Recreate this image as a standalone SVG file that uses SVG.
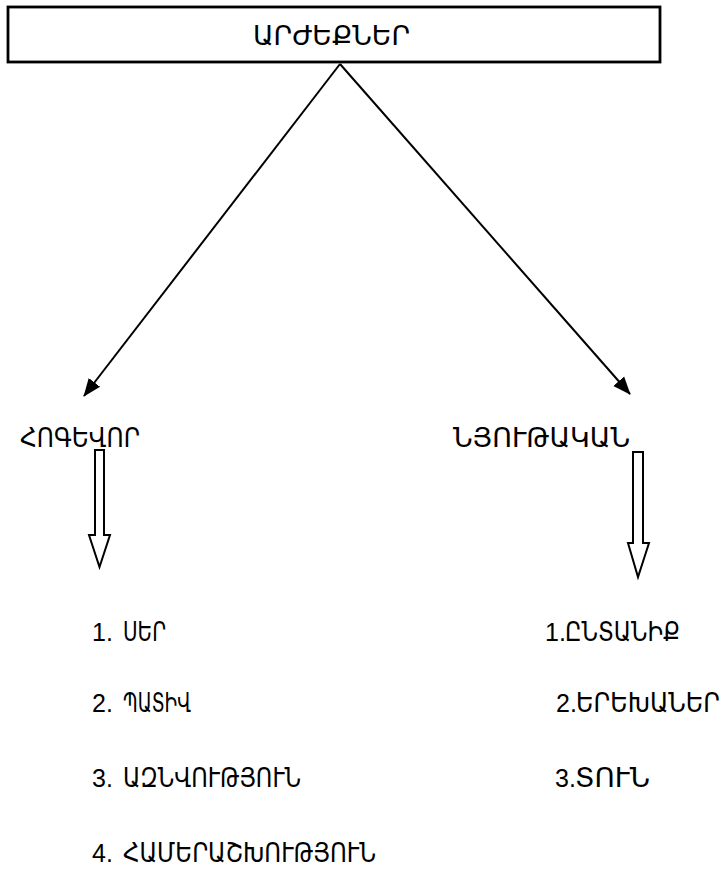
<svg xmlns="http://www.w3.org/2000/svg" width="724" height="890" viewBox="0 0 724 890">
<style>
text{font-family:"Liberation Sans","DejaVu Sans Condensed","DejaVu Sans","Noto Sans",sans-serif;font-size:25px;fill:#000}
.hy{font-family:"DejaVu Sans Condensed","DejaVu Sans","Noto Sans",sans-serif;font-size:27px}
.box{fill:#fff;stroke:#000;stroke-width:2.8}
.edge{stroke:#000;stroke-width:2;fill:none}
.hollow{fill:#fff;stroke:#000;stroke-width:2}
</style>
<defs>
<marker id="ah2" viewBox="0 0 10 10" refX="9.5" refY="5" markerWidth="9" markerHeight="9" orient="auto">
<path d="M0,1 L10,5 L0,9 z" fill="#000"/>
</marker>
</defs>
<rect width="724" height="890" fill="#fff"/>
<g id="root">
<rect class="box" x="8" y="7" width="652" height="55"/>
<text class="hy" x="253" y="45" textLength="157" lengthAdjust="spacingAndGlyphs">ԱՐԺԵՔՆԵՐ</text>
</g>
<g id="connectors">
<line class="edge" x1="340" y1="64" x2="84" y2="396" marker-end="url(#ah2)"/>
<line class="edge" x1="340" y1="64" x2="630" y2="394" marker-end="url(#ah2)"/>
<path class="hollow" d="M95,450 H104 V535 H110 L99.5,567 L89,535 H95 Z"/>
<path class="hollow" d="M633,452 H643 V543 H649 L638,577 L628,543 H633 Z"/>
</g>
<g id="spiritual">
<text class="hy" x="20" y="447" textLength="120" lengthAdjust="spacingAndGlyphs">ՀՈԳԵՎՈՐ</text>
</g>
<g id="material">
<text class="hy" x="453" y="447" textLength="177" lengthAdjust="spacingAndGlyphs">ՆՅՈՒԹԱԿԱՆ</text>
</g>
<g id="spiritual-list">
<text x="92" y="641">1.</text><text class="hy" x="123" y="641" textLength="43" lengthAdjust="spacingAndGlyphs">ՍԵՐ</text>
<text x="92" y="712">2.</text><text class="hy" x="123" y="712" textLength="68" lengthAdjust="spacingAndGlyphs">ՊԱՏԻՎ</text>
<text x="92" y="787">3.</text><text class="hy" x="123" y="787" textLength="178" lengthAdjust="spacingAndGlyphs">ԱԶՆՎՈՒԹՅՈՒՆ</text>
<text x="92" y="862">4.</text><text class="hy" x="123" y="862" textLength="253" lengthAdjust="spacingAndGlyphs">ՀԱՄԵՐԱՇԽՈՒԹՅՈՒՆ</text>
</g>
<g id="material-list">
<text x="545" y="641">1.</text><text class="hy" x="565" y="641" textLength="115" lengthAdjust="spacingAndGlyphs">ԸՆՏԱՆԻՔ</text>
<text x="556" y="712">2.</text><text class="hy" x="576" y="712" textLength="144" lengthAdjust="spacingAndGlyphs">ԵՐԵԽԱՆԵՐ</text>
<text x="555" y="787">3.</text><text class="hy" x="575" y="787" textLength="75" lengthAdjust="spacingAndGlyphs">ՏՈՒՆ</text>
</g>
</svg>
